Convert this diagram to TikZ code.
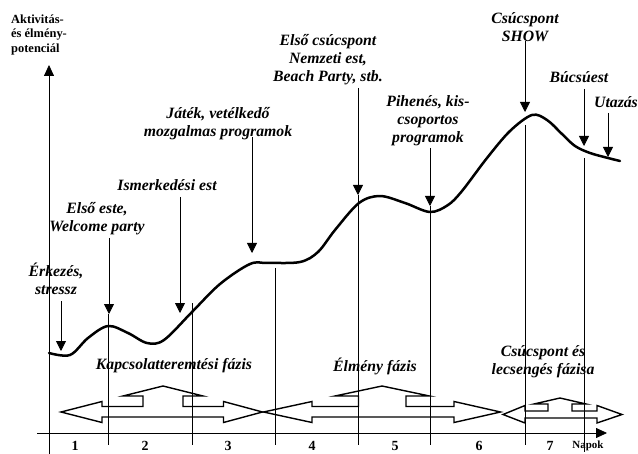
\documentclass[tikz,border=0pt]{standalone}
\usepackage{fontspec}
\setmainfont{Liberation Serif}
\usetikzlibrary{arrows.meta}
\tikzset{
  lbl/.style={font=\fontsize{15.8}{18}\selectfont\bfseries\itshape, align=center, inner sep=0pt},
  axlbl/.style={font=\fontsize{12.5}{15}\selectfont\bfseries, align=left, inner sep=0pt},
  daylbl/.style={font=\fontsize{14}{16}\selectfont\bfseries, inner sep=0pt},
  annarrow/.style={line width=0.8bp, -{Triangle[width=10bp,length=10bp]}},
  axisline/.style={line width=0.8bp, -{Triangle[width=10bp,length=11bp]}},
  dayline/.style={line width=0.7bp},
  curveline/.style={line width=2.5bp, line cap=round, line join=round},
  blockarrow/.style={draw, line width=1.4bp, fill=white, line join=miter},
}
\begin{document}
\begin{tikzpicture}[x=1bp,y=-1bp]
\useasboundingbox (0,0) rectangle (638,454);
\fill[white] (0,0) rectangle (638,454);

% block arrows (phases)
\draw[blockarrow] (61,412) -- (102,401.5) -- (102,406.5) -- (143,406.5) -- (143,396) -- (123,396) -- (163,386) -- (203,396) -- (183,396) -- (183,406.5) -- (223.5,406.5) -- (223.5,401.5) -- (262.5,412) -- (223.5,422.5) -- (223.5,417) -- (102,417) -- (102,422.5) -- cycle;
\draw[blockarrow] (263.5,412) -- (312,401.5) -- (312,406.5) -- (358.5,406.5) -- (358.5,396) -- (335,396) -- (382,386) -- (429.5,396) -- (406,396) -- (406,406.5) -- (454,406.5) -- (454,401.5) -- (500.5,412) -- (454,422.5) -- (454,417) -- (312,417) -- (312,422.5) -- cycle;
\draw[blockarrow] (503,414.5) -- (525,405.5) -- (525,411) -- (548,411) -- (548,404) -- (534,404) -- (560,398) -- (586,404) -- (572,404) -- (572,411) -- (597,411) -- (597,405.5) -- (622,414.5) -- (597,423) -- (597,418) -- (525,418) -- (525,423) -- cycle;

% axes
\coordinate (yb) at (49,454);
\coordinate (yt) at (49,65);
\coordinate (xl) at (37,433);
\coordinate (xr) at (607,433);
\draw[axisline] (yb) -- (yt);
\draw[axisline] (xl) -- (xr);

% day lines
\foreach \n/\x/\t/\b in {d1/108/314/445, d2/192/303/445, d3/275/268/445, d4/358/195/445, d5/430/206/445, d6/525/125/445, d7/584/158/452}{
  \coordinate (\n t) at (\x,\t);
  \coordinate (\n b) at (\x,\b);
  \draw[dayline] (\n t) -- (\n b);
}

% curve
\draw[curveline] plot[smooth, tension=0.55] coordinates {
 (49,353) (70,355) (88,338) (108,326) (128,333) (147,343) (164,340) (192,312) (220,284) (250,264) (268,263) (300,262) (318,252) (335,230) (359,203) (380,196) (405,203) (430,212) (448,205) (462,191) (487,158) (510,131) (532,115) (547,120) (562,134) (575,146) (590,153) (608,158) (620,161)};

% labels + annotation arrows
\node[lbl] (erk) at (56,278.5) {Érkezés,\\stressz};
\coordinate (erks) at (61,301); \coordinate (erke) at (61,351);
\draw[annarrow] (erks) -- (erke);

\node[lbl] (elso) at (97,218.5) {Első este,\\Welcome party};
\coordinate (elsos) at (109,238); \coordinate (elsoe) at (109,314);
\draw[annarrow] (elsos) -- (elsoe);

\node[lbl] (ism) at (167,185) {Ismerkedési est};
\coordinate (isms) at (180,197); \coordinate (isme) at (180,313);
\draw[annarrow] (isms) -- (isme);

\node[lbl] (jat) at (218,123.5) {Játék, vetélkedő\\mozgalmas programok};
\coordinate (jats) at (252,137); \coordinate (jate) at (252,253);
\draw[annarrow] (jats) -- (jate);

\node[lbl] (csp1) at (328,60) {Első csúcspont\\Nemzeti est,\\Beach Party, stb.};
\coordinate (csp1s) at (358,88); \coordinate (csp1e) at (358,195);
\draw[annarrow] (csp1s) -- (csp1e);

\node[lbl] (pih) at (428,121) {Pihenés, kis-\\csoportos\\programok};
\coordinate (pihs) at (430,148); \coordinate (pihe) at (430,206);
\draw[annarrow] (pihs) -- (pihe);

\node[lbl] (show) at (525,27) {Csúcspont\\SHOW};
\coordinate (shows) at (525,41); \coordinate (showe) at (525,112);
\draw[annarrow] (shows) -- (showe);

\node[lbl] (bucs) at (579,77) {Búcsúest};
\coordinate (bucss) at (584,89); \coordinate (bucse) at (584,146);
\draw[annarrow] (bucss) -- (bucse);

\node[lbl] (utaz) at (616,102) {Utazás};
\coordinate (utazs) at (608,113); \coordinate (utaze) at (608,157);
\draw[annarrow] (utazs) -- (utaze);

% phase labels
\node[lbl] (ph1) at (174,366) {Kapcsolatteremtési fázis};
\node[lbl] (ph2) at (375,366) {Élmény fázis};
\node[lbl] (ph3) at (543,362) {Csúcspont és\\lecsengés fázisa};

% axis labels
\node[axlbl, anchor=west] (ylab) at (11,35) {Aktivitás-\\és élmény-\\potenciál};
\node[font=\fontsize{11}{12}\selectfont\bfseries, inner sep=0pt] (napok) at (588,446) {Napok};

% day numbers
\foreach \k/\x in {1/75, 2/145, 3/228, 4/312, 5/395, 6/479, 7/550}{
  \node[daylbl] (day\k) at (\x,446) {\k};
}
\end{tikzpicture}
\end{document}
